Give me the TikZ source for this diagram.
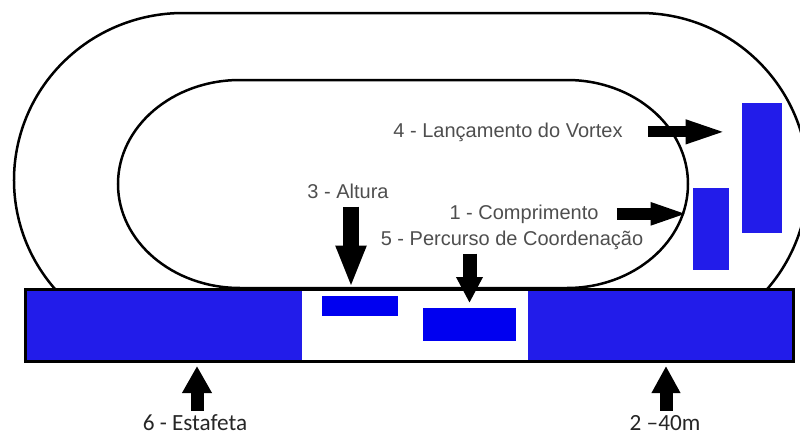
\documentclass[tikz,border=0pt]{standalone}
\usepackage{fontspec}
\setmainfont{Liberation Sans}
\newfontfamily\calibrifont{Carlito}
\usetikzlibrary{arrows.meta}

\definecolor{laneblue}{RGB}{34,28,234}
\definecolor{matblue}{RGB}{0,0,240}
\definecolor{labelgray}{RGB}{78,78,78}

\tikzset{
  track/.style={line width=1.25pt,black},
  matbox/.style 2 args={inner sep=0pt,minimum width=#1,minimum height=#2},
  blockarrow/.style n args={3}{line width=#1,-{Triangle[length=#2,width=#3]},black},
  eventlabel/.style={inner sep=0pt,anchor=base,text=labelgray,font=\fontsize{10}{12}\selectfont},
  footlabel/.style={inner sep=0pt,anchor=base,text=black!85,font=\calibrifont\fontsize{11.6}{14}\selectfont}
}

\begin{document}
\begin{tikzpicture}[x=0.5pt,y=-0.5pt]
\useasboundingbox (0,0) rectangle (800,434);
\clip (0,0) rectangle (800,434);

% outer and inner track
\draw[track] ([shift={(221:84.5pt and 83.5pt)}]183,180) arc[start angle=221,end angle=90,x radius=84.5pt,y radius=83.5pt]
  -- (640,13) arc[start angle=90,end angle=-41,x radius=84pt,y radius=83.5pt];
\draw[track] (240,80) -- (567,80) arc[start angle=90,end angle=-90,x radius=60.5pt,y radius=52pt]
  -- (240,288) arc[start angle=270,end angle=90,x radius=61pt,y radius=52pt] -- cycle;

% straight
\fill[laneblue] (25,289) rectangle (302,361);
\fill[laneblue] (528,289) rectangle (793,361);
\node[draw=black,line width=1.5pt,inner sep=0pt,minimum width=384pt,minimum height=36pt] (bar) at (409,325) {};

% areas
\node[matbox={20pt}{65pt},fill=laneblue] (vortexbox) at (762,168) {};
\node[matbox={18pt}{41pt},fill=laneblue] (jumpbox) at (711,229) {};
\node[matbox={38pt}{10pt},fill=matblue] (highbox) at (360,306) {};
\node[matbox={46.5pt}{16.5pt},fill=matblue] (coursebox) at (469.5,324.5) {};

% labels
\node[eventlabel] (vortex) at (508,137) {4 - Lançamento do Vortex};
\node[eventlabel] (jump) at (524,219) {1 - Comprimento};
\node[eventlabel] (high) at (348,198) {3 - Altura};
\node[eventlabel] (course) at (512,245) {5 - Percurso de Coordenação};
\node[footlabel] (relay) at (195,430) {6 - Estafeta};
\node[footlabel] (sprint) at (665,430) {2 –40m};

% arrows
\draw[blockarrow={5.5pt}{21.5pt}{10.5pt}] ([xshift=12.5pt]vortex.east) -- ([xshift=-6.5pt]vortex.east -| vortexbox.west);
\draw[blockarrow={6pt}{19.5pt}{10pt}] ([xshift=9pt]jump.east) -- ([xshift=-1.5pt]jump.east -| jumpbox.west);
\draw[blockarrow={8pt}{21pt}{14pt}] ([xshift=1.5pt,yshift=-4pt]high.south) -- ([xshift=1.5pt]high.south |- bar.north);
\draw[blockarrow={7pt}{13pt}{12.5pt},shorten <=2pt,shorten >=2.3pt] (course.south -| coursebox.north) -- (coursebox.north);
\draw[blockarrow={6.5pt}{13.5pt}{14pt},shorten >=1.75pt] ([xshift=1pt,yshift=1.5pt]relay.north) -- ([xshift=1pt]relay.north |- bar.south);
\draw[blockarrow={6.5pt}{13.5pt}{13.5pt},shorten >=1.75pt] ([xshift=0.5pt,yshift=2pt]sprint.north) -- ([xshift=0.5pt]sprint.north |- bar.south);
\end{tikzpicture}
\end{document}
